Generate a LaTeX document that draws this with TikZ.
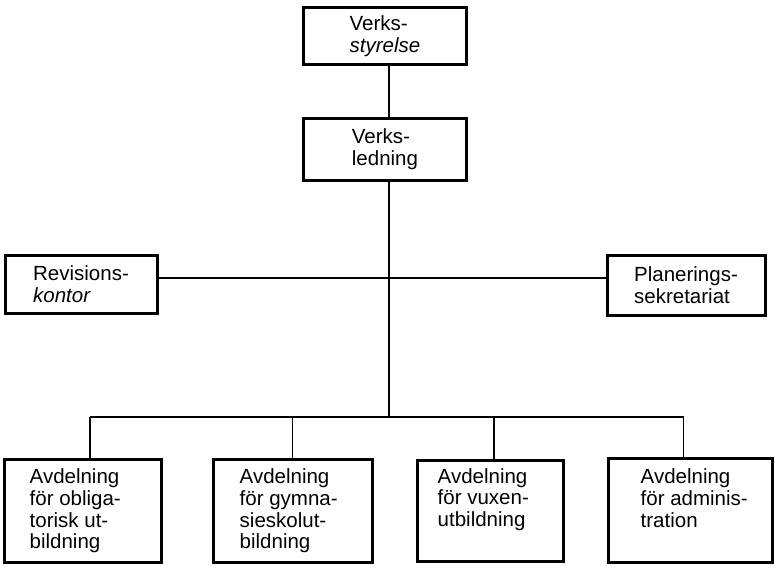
\documentclass[tikz,border=0pt]{standalone}
\usepackage{fontspec}
\setmainfont{Liberation Sans}
\usetikzlibrary{positioning}

\begin{document}
\begin{tikzpicture} [
			x=1pt, y=-1pt,
			every node/.style={font=\fontsize{20.5}{21.8}\selectfont,align=left},
			unit/.style={draw,rectangle,line width=3pt,inner sep=0pt},
			unittext/.style={draw=none,inner sep=0pt,anchor=north west},
			link/.style={line width=1.6pt}
		]
			\useasboundingbox (0,0) rectangle (775,565);
			% top of the organisation
			\node at (385,36) [unit,minimum width=163,minimum height=57] (board) {Verks-\\\textit{styrelse}};
			\node at (385,149) [unit,minimum width=163,minimum height=62] (mgmt) {Verks-\\ledning};
			\node at (81,284) [unit,minimum width=152,minimum height=58] (audit) {Revisions-\\\textit{kontor}};
			\node at (686,285) [unit,minimum width=158,minimum height=60] (plan) {Planerings-\\sekretariat};
			\coordinate (bus) at (389,417);
			% departments
			\node at (82.5,510.5) [unit,minimum width=157,minimum height=103] (oblig) {};
			\node at (292.5,510.5) [unit,minimum width=159,minimum height=103] (gymn) {};
			\node at (490,511) [unit,minimum width=146,minimum height=101] (vuxen) {};
			\node at (690,510) [unit,minimum width=164,minimum height=104] (admin) {};
			\node [unittext] at ([xshift=27pt,yshift=-11pt]oblig.north west) (txtOblig) {Avdelning\\för obliga-\\torisk ut-\\bildning};
			\node [unittext] at ([xshift=28pt,yshift=-11pt]gymn.north west) (txtGymn) {Avdelning\\för gymna-\\sieskolut-\\bildning};
			\node [unittext] at ([xshift=22pt,yshift=-9pt]vuxen.north west) (txtVuxen) {Avdelning\\för vuxen-\\utbildning};
			\node [unittext] at ([xshift=34pt,yshift=-12pt]admin.north west) (txtAdmin) {Avdelning\\för adminis-\\tration};
			% connectors
			\draw[link] (board.south -| bus) -- (mgmt.north -| bus);
			\draw[link] (mgmt.south -| bus) -- (bus);
			\draw[link] (audit.east) ++(0,-6) coordinate (staffL) -- (staffL -| plan.west);
			\draw[link] ([xshift=7.5pt]oblig.north |- bus) -- ([xshift=-6.5pt]admin.north |- bus);
			\draw[link] ([xshift=7.5pt]oblig.north) -- ([xshift=7.5pt]oblig.north |- bus);
			\draw[link] (gymn.north) -- (gymn.north |- bus);
			\draw[link] ([xshift=4pt]vuxen.north) -- ([xshift=4pt]vuxen.north |- bus);
			\draw[link] ([xshift=-6.5pt]admin.north) -- ([xshift=-6.5pt]admin.north |- bus);
		\end{tikzpicture}
\end{document}
